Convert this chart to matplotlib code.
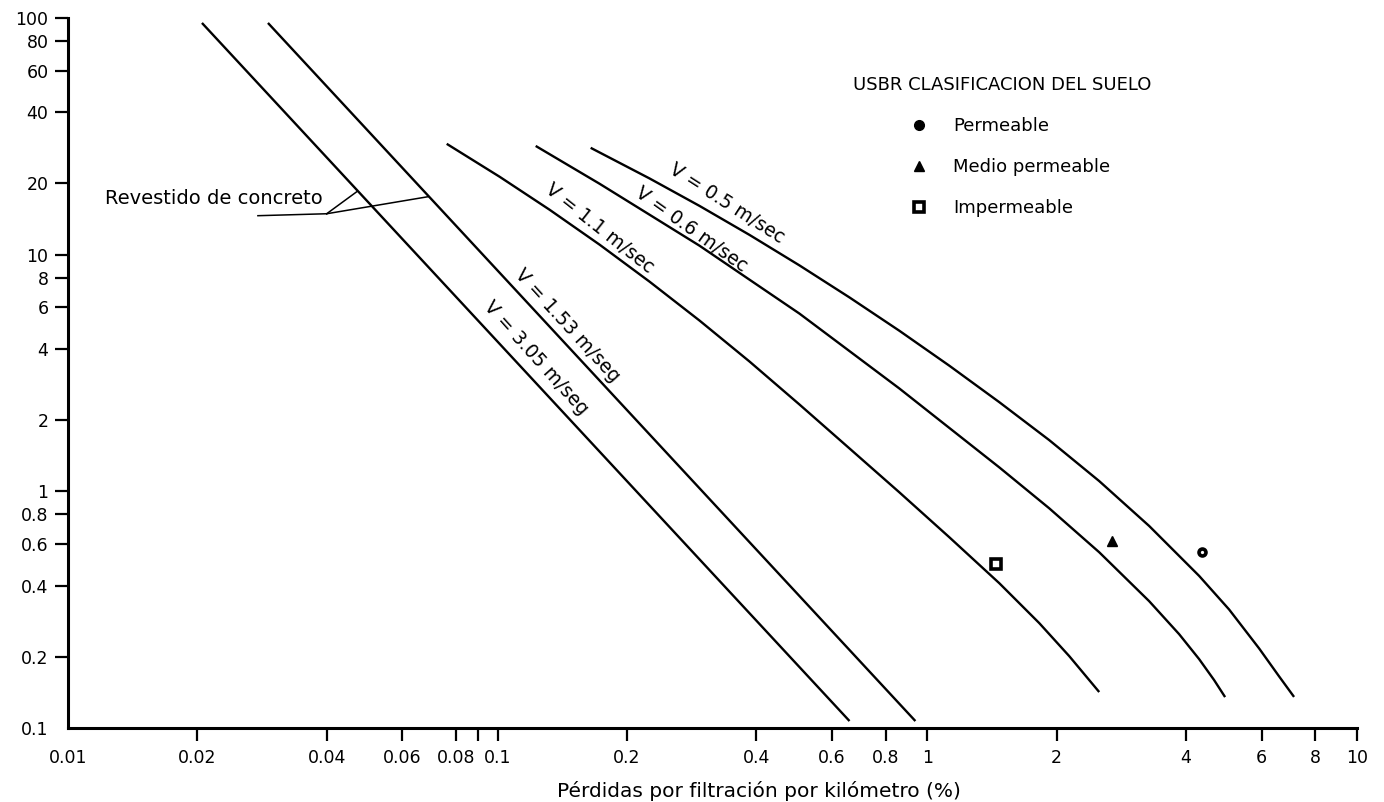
import matplotlib
matplotlib.use('Agg')
import matplotlib.pyplot as plt
from matplotlib.lines import Line2D

plt.rcParams['font.family'] = ['DejaVu Sans']

# ---- data ----
v305_x = [0.0205, 0.659]
v305_y = [95.3, 0.107]
v153_x = [0.0292, 0.938]
v153_y = [95.3, 0.107]
v11_x = [0.0761, 0.1011, 0.1321, 0.1727, 0.2257, 0.2950, 0.3856, 0.5039,
         0.6586, 0.8608, 1.1251, 1.4706, 1.822, 2.139, 2.512]
v11_y = [29.4, 21.33, 15.48, 11.02, 7.69, 5.267, 3.536, 2.328,
         1.519, 0.9903, 0.6397, 0.4091, 0.2774, 0.2013, 0.1419]
v06_x = [0.1226, 0.1727, 0.2257, 0.2950, 0.3856, 0.5039, 0.6586, 0.8608,
         1.1251, 1.4706, 1.9218, 2.512, 3.283, 3.855, 4.291, 4.650, 4.932]
v06_y = [28.8, 19.93, 14.75, 10.91, 7.84, 5.637, 3.916, 2.720,
         1.853, 1.2625, 0.8478, 0.5529, 0.3435, 0.2492, 0.1955, 0.1594, 0.1351]
v05_x = [0.1646, 0.2257, 0.2950, 0.3856, 0.5039, 0.6586, 0.8608, 1.1251,
         1.4706, 1.9218, 2.512, 3.283, 4.291, 5.039, 5.918, 6.586, 7.137]
v05_y = [28.28, 20.99, 16.07, 12.12, 9.01, 6.60, 4.770, 3.395,
         2.381, 1.646, 1.105, 0.714, 0.4393, 0.3168, 0.2169, 0.1653, 0.1353]

curve_labels = ['V = 3.05 m/seg', 'V = 1.53 m/seg', 'V = 1.1 m/sec',
                'V = 0.6 m/sec', 'V = 0.5 m/sec']

soil_labels = ['Permeable', 'Medio permeable', 'Impermeable']
soil_x = [4.36, 2.693, 1.447]
soil_y = [0.553, 0.615, 0.492]

xticks = [0.01, 0.02, 0.04, 0.06, 0.08, 0.09, 0.1, 0.2, 0.4, 0.6, 0.8,
          1, 2, 4, 6, 8, 10]
xticklabels = ['0.01', '0.02', '0.04', '0.06', '0.08', '', '0.1', '0.2',
               '0.4', '0.6', '0.8', '1', '2', '4', '6', '8', '10']
yticks = [0.1, 0.2, 0.4, 0.6, 0.8, 1, 2, 4, 6, 8, 10, 20, 40, 60, 80, 100]
yticklabels = ['0.1', '0.2', '0.4', '0.6', '0.8', '1', '2', '4', '6', '8',
               '10', '20', '40', '60', '80', '100']

legend_title = 'USBR CLASIFICACION DEL SUELO'
annot_text = 'Revestido de concreto'
xlabel = 'Pérdidas por filtración por kilómetro (%)'

# ---- figure ----
W, H = 1384, 802
fig = plt.figure(figsize=(W / 100, H / 100), dpi=100)
ax = fig.add_axes([68 / W, 1 - 728 / H, (1357 - 68) / W, (728 - 18) / H])
ax.set_xscale('log')
ax.set_yscale('log')
ax.set_xlim(0.01, 10)
ax.set_ylim(0.1, 100)

lw = 1.7
for xs, ys in [(v305_x, v305_y), (v153_x, v153_y), (v11_x, v11_y),
               (v06_x, v06_y), (v05_x, v05_y)]:
    ax.plot(xs, ys, color='black', lw=lw, solid_capstyle='butt',
            solid_joinstyle='round')

# curve labels
label_pos = [(0.1226, 3.676, -48.0), (0.1455, 5.017, -47.6),
             (0.1727, 12.88, -38.4), (0.2827, 12.75, -35.5),
             (0.3409, 16.41, -32.6)]
for txt, (lx, ly, rot) in zip(curve_labels, label_pos):
    ax.text(lx, ly, txt, rotation=rot, rotation_mode='anchor',
            ha='center', va='center', fontsize=13.5)

# soil points
ax.plot(soil_x[0], soil_y[0], marker='o', ms=5, mfc='white', mec='black',
        mew=2.6, ls='none')
ax.plot(soil_x[1], soil_y[1], marker='^', ms=7, mfc='black', mec='black',
        ls='none')
ax.plot(soil_x[2], soil_y[2], marker='s', ms=6.5, mfc='white', mec='black',
        mew=2.6, ls='none')

# "Revestido de concreto" leader lines
ax.text(0.01219, 17.23, annot_text, ha='left', va='center', fontsize=14)
ax.plot([0.02767, 0.0400], [14.61, 14.89], color='black', lw=1.1)
ax.plot([0.0400, 0.0470], [14.89, 18.45], color='black', lw=1.1)
ax.plot([0.0400, 0.0688], [14.89, 17.57], color='black', lw=1.1)

# axes styling
for s in ['top', 'right']:
    ax.spines[s].set_visible(False)
for s in ['left', 'bottom']:
    ax.spines[s].set_linewidth(2.2)
ax.set_xticks(xticks)
ax.set_xticklabels(xticklabels)
ax.set_yticks(yticks)
ax.set_yticklabels(yticklabels)
ax.minorticks_off()
ax.tick_params(axis='both', which='major', direction='out', length=9.5,
               width=1.6, labelsize=12.5)
ax.tick_params(axis='x', pad=5.5)
ax.tick_params(axis='y', pad=4.5)
ax.xaxis.get_major_ticks()[0].tick1line.set_visible(False)
ax.yaxis.get_major_ticks()[0].tick1line.set_visible(False)

ax.set_xlabel(xlabel, fontsize=14.5, va='center')
ax.xaxis.set_label_coords((759 - 68) / 1289, (728 - 791) / 710)

# legend
fig.text(853 / W, 1 - 85 / H, legend_title, ha='left', va='center',
         fontsize=13)
handles = [
    Line2D([], [], marker='o', ms=7, mfc='black', mec='black', ls='none'),
    Line2D([], [], marker='^', ms=7, mfc='black', mec='black', ls='none'),
    Line2D([], [], marker='s', ms=6.5, mfc='white', mec='black', mew=2.6,
           ls='none'),
]
ax.legend(handles, soil_labels, loc='upper left',
          bbox_to_anchor=(910 / W, 1 - 117 / H),
          bbox_transform=fig.transFigure, frameon=False, borderpad=0,
          borderaxespad=0, handlelength=1.0, handletextpad=1.38,
          labelspacing=1.28, fontsize=13)

fig.savefig('out.png', dpi=100)
